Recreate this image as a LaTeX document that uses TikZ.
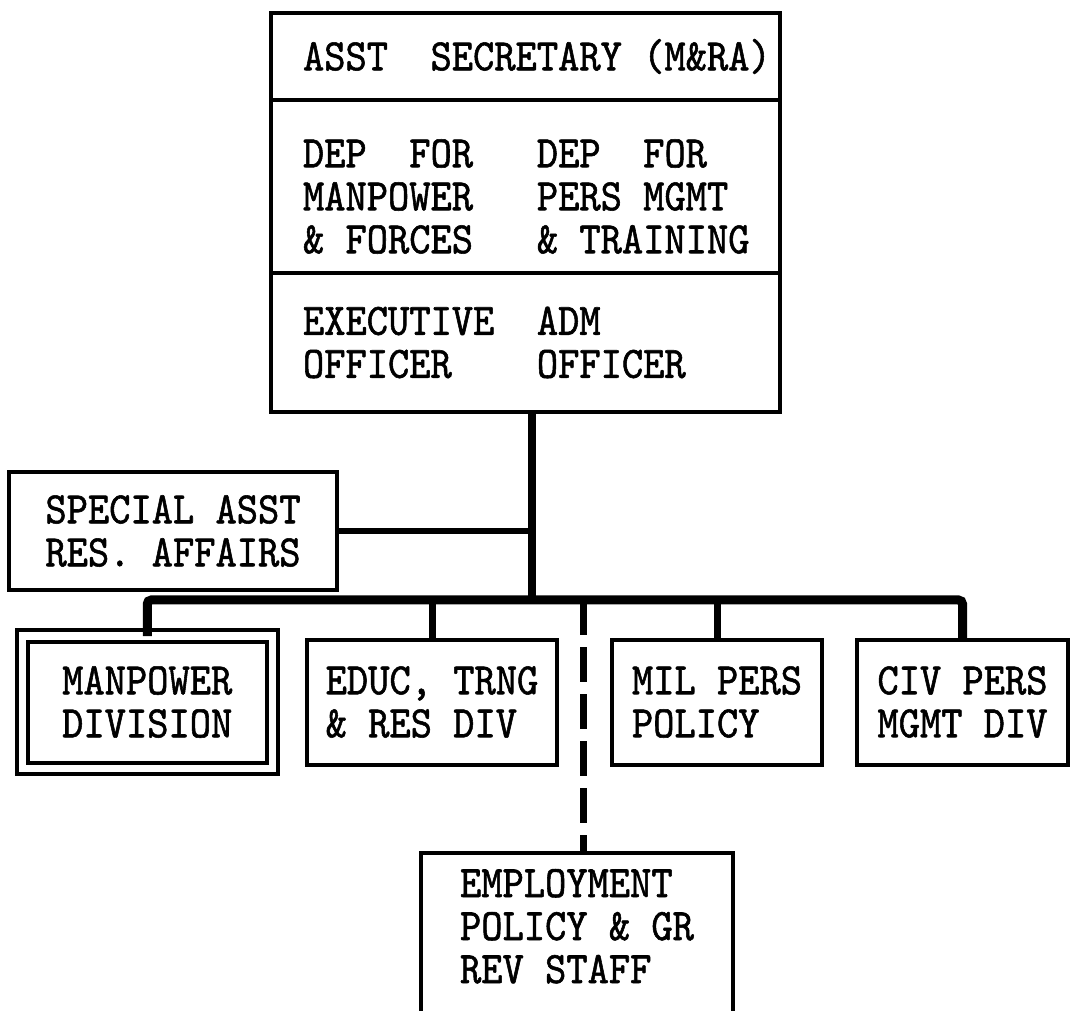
\documentclass[tikz,border=0pt]{standalone}
\usepackage{fontspec}
\usetikzlibrary{positioning}
\newfontfamily\twfont[FakeStretch=0.9, FakeBold=1.2]{lmmono10-regular.otf}
\newcommand\twsetup{\twfont\fontsize{45pt}{43pt}\selectfont\hyphenpenalty=10000\def~{\hphantom{X}}}

\begin{document}
\begin{tikzpicture}[
x=1pt, y=1pt,
node distance=35pt and 35pt,
unit/.style={draw, line width=4pt, outer sep=0pt, inner sep=0pt, align=left, font=\twsetup},
head/.style={unit, text width=445pt, inner xsep=32pt, minimum width=509pt},
link/.style={line width=7pt},
bus/.style={line width=9pt, rounded corners=4pt},
staff/.style={line width=7pt, dash pattern=on 35pt off 12pt}
]
\useasboundingbox (0,0) rectangle (1070,1010);
\clip (0,0) rectangle (1070,1010);
\node[head, minimum height=87pt] (asst) at (525.5,953.5) {ASST~~SECRETARY~(M\&RA)};
\node[head, minimum height=173pt, text height=48pt, below=0pt of asst] (deps) {DEP~~FOR~~~DEP~~FOR\\MANPOWER~~~PERS~MGMT\\\&~FORCES~~~\&~TRAINING};
\node[head, minimum height=139pt, below=0pt of deps] (offs) {EXECUTIVE~~ADM\\OFFICER~~~~OFFICER};
\node[unit, minimum width=328pt, minimum height=118pt] (spec) at (173,479) {SPECIAL~ASST\\RES.~AFFAIRS};
\node[unit, double, double distance=7pt, minimum width=249.5pt, minimum height=132pt] (mpdiv) at (147.25,308) {MANPOWER\\DIVISION};
\node[unit, minimum width=250pt, minimum height=125pt, right=of mpdiv] (educ) {EDUC,~TRNG\\\&~RES~DIV};
\node[unit, minimum width=210pt, minimum height=125pt, right=55pt of educ] (milpers) {MIL~PERS\\POLICY};
\node[unit, minimum width=211pt, minimum height=125pt, right=of milpers] (civpers) {CIV~PERS\\MGMT~DIV};
\node[unit, minimum width=312pt, minimum height=176pt, text depth=30pt, anchor=north] (emp) at (577,157) {EMPLOYMENT\\POLICY~\&~GR\\REV~STAFF};
\coordinate (hub) at (532,410);
\coordinate (split) at (583,410);
\draw[link, line width=8pt] (offs.south -| hub) -- (hub);
\draw[link, line width=6pt] (spec.east) -- (spec.east -| hub);
\draw[bus] (mpdiv.north) |- (hub) -| (civpers.north);
\draw[link] (educ.north) -- (educ.north |- hub);
\draw[link] (milpers.north) -- (milpers.north |- hub);
\draw[staff] (split) -- (split |- emp.north);
\end{tikzpicture}
\end{document}
